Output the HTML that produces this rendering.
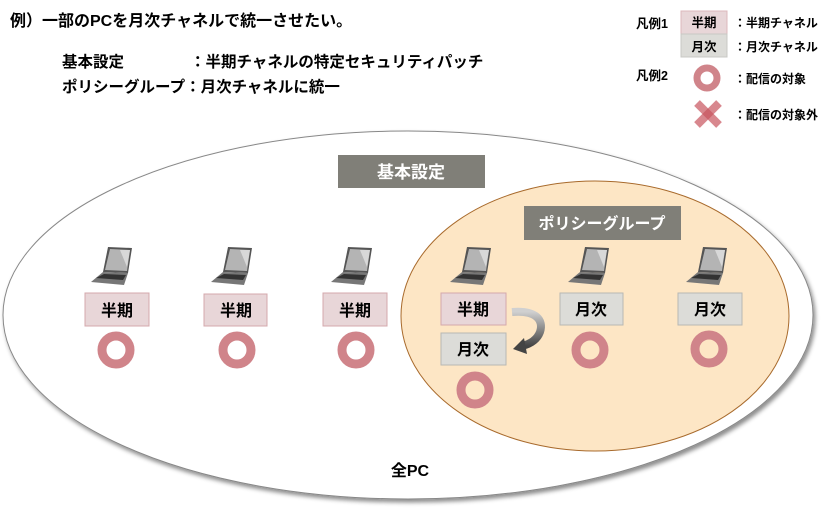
<!DOCTYPE html>
<html><head><meta charset="utf-8"><style>
body{margin:0;background:#fff;}
svg{display:block;font-family:"Liberation Sans","Noto Sans CJK JP",sans-serif;font-weight:bold;}
</style></head><body>
<svg width="839" height="511" viewBox="0 0 839 511">
<defs>
<filter id="sh" x="-5%" y="-5%" width="110%" height="115%"><feDropShadow dx="2" dy="3" stdDeviation="2" flood-color="#000" flood-opacity="0.45"/></filter>
<linearGradient id="ag" x1="0" y1="0" x2="0" y2="1"><stop offset="0" stop-color="#d0d0d0"/><stop offset="1" stop-color="#444"/></linearGradient>
<g id="lap">
<polygon points="-8,0 16,1 12,26 -13,25" fill="#555"/>
<polygon points="-6,2 14,3 11,24 -11,23" fill="#b4b4b4"/>
<polygon points="4,3 14,3 11,20" fill="#d8d8d8"/>
<polygon points="-13,25 12,26 8,38 -25,35" fill="#777"/>
<polygon points="-12,27 10,28 7,33 -20,31" fill="#333"/>
</g>
<g id="ring"><circle r="14" fill="none" stroke="#d0848a" stroke-width="9"/></g>
</defs>
<text x="10" y="26" font-size="16">例）一部のPCを月次チャネルで統一させたい。</text>
<text x="62" y="67" font-size="15.5">基本設定</text>
<text x="190" y="67" font-size="15.5">：半期チャネルの特定セキュリティパッチ</text>
<text x="62" y="92" font-size="15.5">ポリシーグループ：月次チャネルに統一</text>
<!-- legend -->
<text x="636" y="28" font-size="12.5">凡例1</text>
<rect x="681" y="11" width="46" height="23" fill="#e8d6d8" stroke="#ddb8bc"/>
<text x="704" y="27" font-size="12.5" text-anchor="middle">半期</text>
<rect x="681" y="34" width="46" height="23" fill="#dcdcd8" stroke="#c8c8c4"/>
<text x="704" y="51" font-size="12.5" text-anchor="middle">月次</text>
<text x="734" y="27" font-size="12">：半期チャネル</text>
<text x="734" y="51" font-size="12">：月次チャネル</text>
<text x="636" y="80" font-size="12.5">凡例2</text>
<circle cx="707" cy="78" r="10" fill="none" stroke="#d0848a" stroke-width="7"/>
<text x="734" y="83" font-size="12">：配信の対象</text>
<g stroke="#c8545e" stroke-opacity="0.7" stroke-width="8"><line x1="697" y1="103" x2="719" y2="125"/><line x1="719" y1="103" x2="697" y2="125"/></g>
<text x="734" y="119" font-size="12">：配信の対象外</text>
<!-- ellipses -->
<ellipse cx="408" cy="315" rx="405" ry="184" fill="#fff" stroke="#888" stroke-width="1" filter="url(#sh)"/>
<ellipse cx="595" cy="316" rx="194" ry="135" fill="#fde6c5" stroke="#a86a2c" stroke-width="1"/>
<rect x="338" y="155" width="147" height="33" fill="#807f78"/>
<text x="411" y="178" font-size="17" fill="#fff" text-anchor="middle">基本設定</text>
<rect x="524" y="206" width="157" height="34" fill="#807f78"/>
<text x="602" y="229" font-size="16" fill="#fff" text-anchor="middle">ポリシーグループ</text>
<!-- laptops -->
<use href="#lap" x="116" y="247"/><use href="#lap" x="236" y="247"/><use href="#lap" x="356" y="247"/>
<use href="#lap" x="475" y="247"/><use href="#lap" x="593" y="247"/><use href="#lap" x="711" y="247"/>
<!-- boxes -->
<g font-size="16">
<rect x="85" y="293" width="64" height="33" fill="#e8d6d8" stroke="#d4a8ac"/><text x="117" y="316" text-anchor="middle">半期</text>
<rect x="204" y="294" width="63" height="32" fill="#e8d6d8" stroke="#d4a8ac"/><text x="236" y="316" text-anchor="middle">半期</text>
<rect x="323" y="293" width="64" height="33" fill="#e8d6d8" stroke="#d4a8ac"/><text x="355" y="316" text-anchor="middle">半期</text>
<rect x="441" y="293" width="65" height="32" fill="#e8d6d8" stroke="#d4a8ac"/><text x="473" y="315" text-anchor="middle">半期</text>
<rect x="441" y="333" width="65" height="32" fill="#dcdcd8" stroke="#b8b8b4"/><text x="473" y="355" text-anchor="middle">月次</text>
<rect x="560" y="293" width="63" height="32" fill="#dcdcd8" stroke="#b8b8b4"/><text x="591" y="315" text-anchor="middle">月次</text>
<rect x="678" y="293" width="64" height="32" fill="#dcdcd8" stroke="#b8b8b4"/><text x="710" y="315" text-anchor="middle">月次</text>
</g>
<!-- arrow -->
<path d="M512,312 C536,310 544,320 540,332 C537,340 530,344 522,346" fill="none" stroke="url(#ag)" stroke-width="8"/>
<polygon points="513,349 524,338 527,354" fill="#444"/>
<!-- rings -->
<use href="#ring" x="116" y="350"/><use href="#ring" x="237" y="350"/><use href="#ring" x="356" y="350"/>
<use href="#ring" x="475" y="390"/><use href="#ring" x="590" y="350"/><use href="#ring" x="709" y="349"/>
<text x="410" y="476" font-size="16" text-anchor="middle">全PC</text>
</svg>
</body></html>
